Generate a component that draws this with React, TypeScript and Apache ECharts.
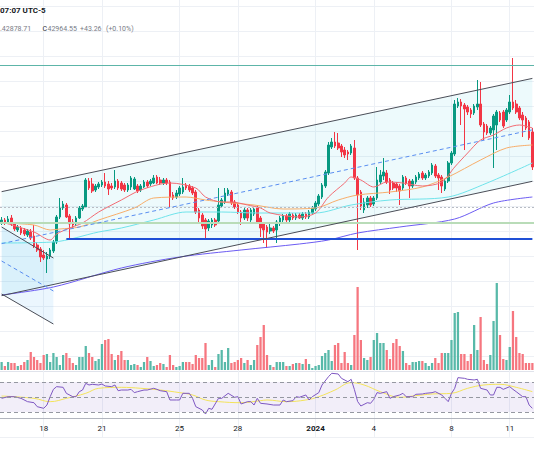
import { useEffect, useRef } from "react";
import * as echarts from "echarts";

// ---------- time axis (4h bars) ----------
const pad = (n: number) => String(n).padStart(2, "0");
const FIRST_BAR_UTC = Date.UTC(2023, 11, 15, 20, 0);
const BAR_HOURS = 4;
const BAR_COUNT = 165;
const CATEGORIES: string[] = Array.from({ length: BAR_COUNT }, (_, i) => {
  const d = new Date(FIRST_BAR_UTC + i * BAR_HOURS * 3600 * 1000);
  return `${d.getUTCFullYear()}-${pad(d.getUTCMonth() + 1)}-${pad(d.getUTCDate())} ${pad(d.getUTCHours())}:00`;
});
const TICK_DATES = [
  "2023-12-18 00:00",
  "2023-12-21 00:00",
  "2023-12-25 00:00",
  "2023-12-28 00:00",
  "2024-01-01 00:00",
  "2024-01-04 00:00",
  "2024-01-08 00:00",
  "2024-01-11 00:00",
];
const TICK_LABELS = ["18", "21", "25", "28", "2024", "4", "8", "11"];

// ---------- header legend texts ----------
const HEADER_TIME = "07:07 UTC-5";
const HEADER_LOW = ".42878.71";
const HEADER_CLOSE_KEY = "C";
const HEADER_CLOSE = "42964.55";
const HEADER_CHANGE = "+43.26";
const HEADER_CHANGE_PCT = "(+0.10%)";

// ---------- OHLC: [open, close, low, high] ----------
const OHLC: number[][] = [
  [40680, 40720, 40620, 40780], //0
  [40720, 40660, 40620, 40760],
  [40660, 40740, 40640, 40800],
  [40760, 40640, 40600, 40820],
  [40640, 40540, 40500, 40680],
  [40520, 40580, 40480, 40620],
  [40560, 40460, 40420, 40600],
  [40520, 40440, 40400, 40560],
  [40420, 40500, 40380, 40540],
  [40480, 40360, 40320, 40540],
  [40400, 40200, 40160, 40620], //10
  [40220, 40120, 40080, 40280],
  [40140, 39980, 39880, 40180],
  [40020, 39960, 39920, 40120],
  [39940, 40000, 39660, 40080],
  [40000, 40120, 39940, 40160],
  [40100, 40280, 40060, 40320],
  [40280, 40780, 40240, 40820],
  [40780, 40960, 40740, 41160],
  [40960, 41040, 40920, 41100],
  [41020, 40780, 40760, 41060], //20
  [40800, 40640, 40360, 40840],
  [40680, 40620, 40560, 40740],
  [40640, 40760, 40600, 40800],
  [40760, 40960, 40740, 41000],
  [40940, 41000, 40900, 41040],
  [40980, 41520, 40960, 41560],
  [41500, 41360, 41320, 41560],
  [41440, 41300, 41260, 41560],
  [41320, 41400, 41280, 41440],
  [41380, 41440, 41340, 41480], //30
  [41420, 41480, 41380, 41520],
  [41480, 41400, 41360, 41660],
  [41440, 41340, 41220, 41500],
  [41400, 41360, 41320, 41460],
  [41380, 41500, 41340, 41720],
  [41500, 41360, 41320, 41540],
  [41460, 41340, 41300, 41500],
  [41420, 41320, 41280, 41460],
  [41320, 41420, 41280, 41460],
  [41380, 41560, 41320, 41600], //40
  [41340, 41540, 41320, 41580],
  [41400, 41300, 41260, 41440],
  [41320, 41400, 41280, 41440],
  [41380, 41480, 41360, 41520],
  [41480, 41400, 41360, 41520],
  [41440, 41500, 41400, 41540],
  [41460, 41560, 41440, 41620],
  [41580, 41460, 41440, 41620],
  [41520, 41460, 41420, 41580],
  [41460, 41520, 41420, 41560], //50
  [41520, 41460, 41420, 41560],
  [41480, 41180, 40980, 41520],
  [41220, 41160, 41120, 41280],
  [41180, 41260, 41140, 41320],
  [41240, 41360, 41200, 41400],
  [41280, 41380, 41240, 41560],
  [41420, 41360, 41320, 41460],
  [41400, 41320, 41280, 41440],
  [41360, 41260, 41220, 41400],
  [41280, 40880, 40840, 41320], //60
  [40920, 40760, 40660, 40960],
  [40820, 40600, 40540, 40860],
  [40720, 40540, 40320, 40760],
  [40560, 40700, 40500, 40740],
  [40620, 40720, 40560, 40760],
  [40720, 40620, 40580, 40760],
  [40700, 41020, 40680, 41360],
  [41000, 41120, 40960, 41160],
  [41080, 41260, 41040, 41360],
  [41240, 41320, 41200, 41360], //70
  [41280, 41060, 41020, 41320],
  [41080, 40980, 40940, 41120],
  [41020, 40880, 40840, 41060],
  [40880, 40760, 40620, 40920],
  [40760, 40920, 40720, 40960],
  [40920, 40760, 40700, 40960],
  [40720, 40920, 40680, 40960],
  [40840, 40940, 40800, 40980],
  [40960, 40680, 40640, 41000],
  [40760, 40560, 40380, 40800], //80
  [40640, 40520, 40260, 40680],
  [40580, 40480, 40160, 40620],
  [40500, 40560, 40440, 40640],
  [40560, 40500, 40460, 40600],
  [40520, 40680, 40260, 40720],
  [40660, 40760, 40600, 40800],
  [40720, 40800, 40680, 40840],
  [40800, 40720, 40680, 40840],
  [40720, 40840, 40680, 40880],
  [40820, 40760, 40720, 40860], //90
  [40760, 40820, 40720, 40860],
  [40820, 40760, 40740, 40860],
  [40760, 40840, 40720, 40880],
  [40840, 40780, 40740, 40880],
  [40780, 40880, 40740, 40920],
  [40860, 40960, 40820, 41000],
  [40940, 41060, 40900, 41100],
  [41040, 41200, 41000, 41240],
  [41180, 41420, 41140, 41460],
  [41400, 41680, 41360, 41720], //100
  [41660, 42220, 41620, 42280],
  [42180, 42280, 42140, 42360],
  [42280, 42200, 42160, 42480],
  [42260, 42160, 42120, 42460],
  [42200, 42080, 41980, 42240],
  [42120, 42020, 41960, 42180],
  [42080, 42040, 41920, 42120],
  [42060, 42200, 42020, 42240],
  [42160, 41560, 41520, 42320],
  [41560, 41220, 40120, 41600], //110
  [41280, 41000, 40920, 41320],
  [40920, 41080, 40860, 41160],
  [41020, 41160, 40960, 41200],
  [41160, 41020, 40980, 41200],
  [41040, 41160, 41000, 41200],
  [41160, 41520, 41120, 41780],
  [41480, 41620, 41440, 41720],
  [41600, 41680, 41520, 41960],
  [41660, 41480, 41440, 41720],
  [41520, 41320, 41240, 41560], //120
  [41460, 41360, 41320, 41500],
  [41440, 41360, 41280, 41480],
  [41400, 41300, 41020, 41440],
  [41360, 41580, 41320, 41620],
  [41560, 41460, 41420, 41600],
  [41500, 41400, 41160, 41540],
  [41400, 41500, 41360, 41540],
  [41480, 41580, 41440, 41620],
  [41560, 41640, 41520, 41680],
  [41660, 41560, 41520, 41700], //130
  [41560, 41620, 41520, 41660],
  [41600, 41680, 41560, 41720],
  [41660, 41820, 41620, 41860],
  [41800, 41600, 41560, 41840],
  [41620, 41560, 41320, 41660],
  [41580, 41400, 41260, 41620],
  [41340, 41500, 41300, 41540],
  [41500, 41860, 41460, 41900],
  [41860, 42060, 41820, 42100],
  [42040, 43040, 42000, 43120], //140
  [43000, 43080, 42960, 43160],
  [43080, 43000, 42620, 43140],
  [43020, 42940, 42120, 43060],
  [42980, 42880, 42820, 43020],
  [42920, 42840, 42760, 42960],
  [42860, 43000, 42820, 43040],
  [42980, 43040, 42920, 43520],
  [43040, 42620, 42580, 43480],
  [42640, 42480, 42320, 42680],
  [42600, 42460, 42420, 42640], //150
  [42460, 42560, 42420, 42600],
  [42520, 42800, 41760, 42840],
  [42620, 42880, 42120, 42920],
  [42860, 42720, 42680, 42900],
  [42880, 42600, 42560, 42920],
  [42720, 42920, 42680, 42960],
  [42880, 43080, 42840, 43220],
  [43080, 42960, 42920, 43960],
  [43040, 42880, 42840, 43120],
  [42960, 42760, 42720, 43000], //160
  [42820, 42720, 42380, 42880],
  [42760, 42560, 42520, 42800],
  [42680, 42360, 42320, 42720],
  [42480, 41780, 41720, 42560], //164
];

const VOLUME: number[] = [
  80, 40, 80, 70, 70, 40, 50, 80, 100, 180,
  130, 100, 70, 150, 160, 80, 170, 130, 50, 150,
  170, 120, 70, 50, 130, 130, 240, 170, 130, 90,
  110, 260, 300, 310, 160, 100, 150, 190, 100, 100,
  50, 60, 50, 30, 80, 130, 90, 40, 50, 70,
  60, 30, 150, 50, 30, 40, 80, 80, 80, 60,
  150, 120, 120, 270, 50, 100, 30, 160, 200, 80,
  220, 70, 80, 100, 120, 70, 100, 50, 100, 250,
  330, 450, 150, 50, 30, 80, 80, 80, 40, 40,
  60, 70, 70, 60, 110, 60, 20, 40, 50, 140,
  170, 200, 90, 250, 270, 70, 180, 70, 50, 350,
  830, 300, 120, 100, 130, 300, 370, 270, 270, 200,
  110, 270, 310, 240, 190, 70, 50, 80, 80, 90,
  90, 70, 40, 70, 120, 70, 170, 170, 170, 300,
  570, 580, 160, 160, 90, 160, 450, 200, 530, 100,
  60, 150, 490, 870, 350, 110, 100, 230, 590, 330,
  170, 160, 70, 70, 70,
];

// ---------- moving averages: [bar index, price] ----------
const EMA_FAST: number[][] = [[0,40680],[10,40480],[15,40320],[17,40440],[21,40560],[25,40660],[30,40880],[37,41120],[43,41320],[52,41460],[60,41360],[63,41180],[68,41080],[71,41080],[76,41020],[80,40960],[83,40860],[92,40780],[97,40860],[101,41180],[106,41460],[108,41580],[111,41520],[115,41380],[119,41480],[124,41460],[130,41400],[136,41480],[140,41780],[144,42060],[148,42320],[152,42420],[156,42560],[160,42620],[164,42560]];
const MA_MID: number[][] = [[0,40660],[10,40620],[15,40520],[18,40540],[24,40580],[30,40720],[41,40960],[47,41160],[57,41180],[63,41120],[68,41080],[78,41020],[87,40940],[97,40960],[104,41120],[110,41220],[120,41280],[130,41380],[138,41580],[148,41920],[156,42160],[164,42220]];
const MA_SLOW: number[][] = [[0,40260],[16,40280],[30,40480],[37,40560],[47,40720],[57,40880],[68,40880],[79,40860],[97,40860],[108,41020],[120,41120],[138,41180],[150,41460],[164,41860]];
const MA_LONG: number[][] = [[0,39220],[16,39380],[37,39760],[55,39980],[74,40120],[92,40240],[101,40320],[110,40460],[123,40580],[140,40740],[152,41060],[164,41180]];

// ---------- regression channels ----------
const UP_CH_BARS = [0, 164];
const UP_CH_UPPER = [41287, 43552];
const UP_CH_MID = [40247, 42523];
const UP_CH_LOWER = [39207, 41494];
const DN_CH_BARS = [0, 16];
const DN_CH_UPPER = [40580, 39960];
const DN_CH_MID = [39900, 39300];
const DN_CH_LOWER = [39240, 38640];

// ---------- horizontal levels ----------
const LEVEL_TOP = 43820;
const LEVEL_DOTTED = 40980;
const LEVEL_GREEN = 40660;
const LEVEL_BLUE = 40340;
const LEVEL_BLUE_FROM = 20;

// ---------- RSI ----------
const RSI: number[][] = [[0,48.2],[2,50.4],[4,50.4],[6,48.2],[8,43.8],[10,42.4],[11,37.1],[13,34.9],[14,39.3],[15,50.4],[16,60.2],[17,63.8],[19,62.9],[20,54.9],[22,50.4],[23,50.4],[24,57.1],[25,59.3],[26,68.2],[27,66],[28,66.9],[30,66],[31,67.3],[32,64.7],[34,63.8],[35,66],[36,58.4],[37,59.3],[39,59.3],[40,60.2],[41,55.8],[42,57.1],[44,59.3],[45,59.3],[47,61.6],[48,60.2],[49,58.4],[51,57.1],[52,46],[54,46],[55,46],[56,54.9],[58,54.9],[59,48.2],[60,37.1],[62,32.7],[63,27.3],[64,34.9],[65,33.6],[67,48.2],[68,48.2],[70,54.9],[72,49.6],[73,50.4],[74,40.7],[76,43.8],[77,43.8],[78,39.3],[79,48.2],[80,41.6],[82,40.7],[84,39.3],[86,39.3],[87,46],[88,43.8],[90,45.1],[91,50.4],[92,49.6],[94,52.7],[95,46],[96,50.4],[98,55.8],[99,66],[101,77.1],[102,81.6],[104,80.7],[105,74.9],[107,70.4],[108,73.6],[109,60],[110,44],[111,38],[113,42.4],[114,41.6],[115,46.9],[116,55.8],[117,54.9],[119,57.1],[120,48.2],[121,50.4],[123,52.7],[124,54.9],[125,50.4],[127,50.4],[128,53.6],[130,54],[131,54.9],[133,55.8],[134,57.1],[136,52.7],[137,48.2],[138,43.8],[139,54.9],[140,61.6],[141,75.8],[143,74.9],[144,73.6],[146,72.7],[147,73.6],[148,61.6],[150,59.3],[151,52.7],[152,52.7],[153,62.9],[154,62.9],[155,60.2],[157,63.8],[158,60.2],[159,57.1],[161,50.4],[162,50.4],[163,39.3],[164,34.9]];
const RSI_MA: number[][] = [[0,51.3],[10,48.2],[15,43.8],[20,48.2],[26,54.9],[30,61.6],[37,62.9],[43,61.6],[49,59.3],[55,55.8],[59,52.7],[63,46],[67,43.8],[74,42.4],[80,45.1],[82,46],[88,43.8],[94,46],[98,50.4],[103,59.3],[108,69.1],[112,66],[117,57.1],[123,49.6],[128,51.8],[133,54],[139,54.9],[144,61.6],[149,66],[154,66.9],[159,62.9],[164,57.1]];
const RSI_LEVELS = [70, 50, 30];

// ---------- styling ----------
const UP = "#089981";
const DOWN = "#f23645";
const UP_VOL = "#58b9a9";
const DOWN_VOL = "#f6767f";
const GRID_COLOR = "#edf0f5";
const FONT = "Roboto, 'Noto Sans', sans-serif";

function channelFill(bars: number[], upper: number[], lower: number[], color: string) {
  return {
    type: "custom",
    xAxisIndex: 0,
    yAxisIndex: 0,
    silent: true,
    z: 1,
    data: [[bars[0], upper[0]]],
    renderItem: (_p: any, api: any) => {
      const a = api.coord([bars[0], upper[0]]);
      const b = api.coord([bars[1], upper[1]]);
      const c = api.coord([bars[1], lower[1]]);
      const d = api.coord([bars[0], lower[0]]);
      return { type: "polygon", shape: { points: [a, b, c, d] }, style: { fill: color } };
    },
  };
}

function segment(bars: number[], vals: number[], color: string, dashed = false, z = 6) {
  return {
    type: "line",
    xAxisIndex: 0,
    yAxisIndex: 0,
    data: [[bars[0], vals[0]], [bars[1], vals[1]]],
    symbol: "none",
    silent: true,
    z,
    lineStyle: { color, width: 1, type: dashed ? [4, 3] : "solid" },
  };
}

function maLine(data: number[][], color: string) {
  return {
    type: "line",
    xAxisIndex: 0,
    yAxisIndex: 0,
    data,
    symbol: "none",
    silent: true,
    smooth: 0.3,
    z: 4,
    lineStyle: { color, width: 1 },
  };
}

function headerText(x: number, y: number, text: string, fill: string, size: number, bold = false) {
  return {
    type: "text",
    x,
    y,
    silent: true,
    z: 50,
    style: {
      text,
      fill,
      fontSize: size,
      fontFamily: FONT,
      fontWeight: bold ? "bold" : "normal",
      align: "left",
      verticalAlign: "middle",
    },
  };
}

export default function App() {
  const ref = useRef<HTMLDivElement>(null);
  useEffect(() => {
    if (!ref.current) return;
    const chart = echarts.init(ref.current, undefined, { renderer: "svg" });
    const tickSet = new Set(TICK_DATES);
    const isTick = (_i: number, v: string) => tickSet.has(v);

    const volData = VOLUME.map((v, i) => ({
      value: v,
      itemStyle: { color: OHLC[i][1] >= OHLC[i][0] ? UP_VOL : DOWN_VOL },
    }));

    const hiddenCat = (gridIndex: number, split: boolean) => ({
      type: "category",
      gridIndex,
      data: CATEGORIES,
      boundaryGap: true,
      axisLine: { show: false },
      axisTick: { show: false, alignWithLabel: true, interval: isTick },
      axisLabel: { show: false, interval: isTick },
      splitLine: { show: split, interval: isTick, alignWithLabel: true, lineStyle: { color: GRID_COLOR, width: 1 } },
    });

    const option: any = {
      animation: false,
      backgroundColor: "#ffffff",
      textStyle: { fontFamily: FONT },
      grid: [
        { left: 0, right: 0, top: 6, height: 350 },
        { left: 0, right: 0, top: 270, height: 100 },
        { left: 0, right: 0, top: 372, height: 46 },
        { left: 0, right: 0, top: 0, height: 437 },
      ],
      xAxis: [
        hiddenCat(0, false),
        hiddenCat(1, false),
        {
          type: "category",
          gridIndex: 2,
          data: CATEGORIES,
          boundaryGap: true,
          axisLine: { show: true, lineStyle: { color: "#b2b5be", width: 1 } },
          axisTick: { show: false, alignWithLabel: true, interval: isTick },
          splitLine: { show: false },
          axisLabel: {
            show: true,
            interval: isTick,
            margin: 6,
            fontSize: 8,
            color: "#131722",
            fontFamily: FONT,
            formatter: (v: string) => {
              const k = TICK_DATES.indexOf(v);
              const t = k >= 0 ? TICK_LABELS[k] : "";
              return t === "2024" ? `{b|${t}}` : t;
            },
            rich: { b: { fontWeight: "bold", fontSize: 8, color: "#131722", fontFamily: FONT } },
          },
        },
        hiddenCat(3, true),
      ],
      yAxis: [
        {
          type: "value",
          gridIndex: 0,
          min: 38000,
          max: 45000,
          interval: 500,
          axisLine: { show: false },
          axisTick: { show: false },
          axisLabel: { show: false },
          splitLine: { show: true, lineStyle: { color: GRID_COLOR, width: 1 } },
        },
        { type: "value", gridIndex: 1, min: 0, max: 1000, show: false, splitLine: { show: false } },
        { type: "value", gridIndex: 2, min: 22, max: 83.333, show: false, splitLine: { show: false } },
        { type: "value", gridIndex: 3, min: 0, max: 1, show: false, splitLine: { show: false } },
      ],
      graphic: [
        { type: "line", silent: true, shape: { x1: 0, y1: 371.5, x2: 534, y2: 371.5 }, style: { stroke: "#e0e3eb", lineWidth: 1 } },
        { type: "line", silent: true, shape: { x1: 0, y1: 437.5, x2: 534, y2: 437.5 }, style: { stroke: "#eef0f4", lineWidth: 1 } },
        headerText(0, 10, HEADER_TIME, "#131722", 8, true),
        headerText(0, 29, HEADER_LOW, "#787b86", 7),
        headerText(42.5, 29, HEADER_CLOSE_KEY, "#2a2e39", 7),
        headerText(47.5, 29, HEADER_CLOSE, "#787b86", 7),
        headerText(80, 29, HEADER_CHANGE, "#787b86", 7),
        headerText(106, 29, HEADER_CHANGE_PCT, "#787b86", 7),
      ],
      series: [
        channelFill(UP_CH_BARS, UP_CH_UPPER, UP_CH_LOWER, "rgba(0,188,212,0.07)"),
        channelFill(DN_CH_BARS, DN_CH_UPPER, DN_CH_LOWER, "rgba(33,150,243,0.09)"),
        {
          type: "candlestick",
          xAxisIndex: 0,
          yAxisIndex: 0,
          data: OHLC,
          barWidth: "66%",
          z: 3,
          itemStyle: { color: UP, color0: DOWN, borderColor: UP, borderColor0: DOWN, borderWidth: 1 },
          markLine: {
            silent: true,
            symbol: ["none", "none"],
            label: { show: false },
            data: [
              { yAxis: LEVEL_TOP, lineStyle: { color: "#5db5a8", width: 1, type: "solid" } },
              { yAxis: LEVEL_DOTTED, lineStyle: { color: "#b8bcc4", width: 1, type: [2, 2] } },
              { yAxis: LEVEL_GREEN, lineStyle: { color: "#b9dcb8", width: 2, type: "solid" } },
              [
                { coord: [LEVEL_BLUE_FROM, LEVEL_BLUE], lineStyle: { color: "#1f4fd6", width: 2, type: "solid" } },
                { coord: [BAR_COUNT - 1, LEVEL_BLUE] },
              ],
            ],
          },
        },
        maLine(MA_LONG, "#6c5cf2"),
        maLine(MA_SLOW, "#6fe3ea"),
        maLine(MA_MID, "#f7ad6a"),
        maLine(EMA_FAST, "#f26b73"),
        segment(UP_CH_BARS, UP_CH_UPPER, "#4a4d57"),
        segment(UP_CH_BARS, UP_CH_MID, "#5a8ef0", true),
        segment(UP_CH_BARS, UP_CH_LOWER, "#4a4d57"),
        segment(DN_CH_BARS, DN_CH_UPPER, "#4a4d57"),
        segment(DN_CH_BARS, DN_CH_MID, "#5a8ef0", true),
        segment(DN_CH_BARS, DN_CH_LOWER, "#4a4d57"),
        {
          type: "bar",
          xAxisIndex: 1,
          yAxisIndex: 1,
          data: volData,
          barWidth: "70%",
          silent: true,
          z: 2,
        },
        {
          type: "line",
          xAxisIndex: 2,
          yAxisIndex: 2,
          data: RSI,
          symbol: "none",
          silent: true,
          z: 4,
          lineStyle: { color: "#7e57c2", width: 1 },
          markArea: {
            silent: true,
            itemStyle: { color: "rgba(126,87,194,0.10)" },
            data: [[{ yAxis: RSI_LEVELS[0] }, { yAxis: RSI_LEVELS[2] }]],
          },
          markLine: {
            silent: true,
            symbol: ["none", "none"],
            label: { show: false },
            lineStyle: { color: "#9598a1", width: 1, type: [4, 3] },
            data: RSI_LEVELS.map((v) => ({ yAxis: v })),
          },
        },
        {
          type: "line",
          xAxisIndex: 2,
          yAxisIndex: 2,
          data: RSI_MA,
          symbol: "none",
          silent: true,
          smooth: 0.4,
          z: 3,
          lineStyle: { color: "#f3e35a", width: 1 },
        },
      ],
    };
    chart.setOption(option);
    return () => chart.dispose();
  }, []);

  return (
    <div
      ref={ref}
      style={{ position: "fixed", left: 0, top: 0, width: 534, height: 462, background: "#fff" }}
    />
  );
}
